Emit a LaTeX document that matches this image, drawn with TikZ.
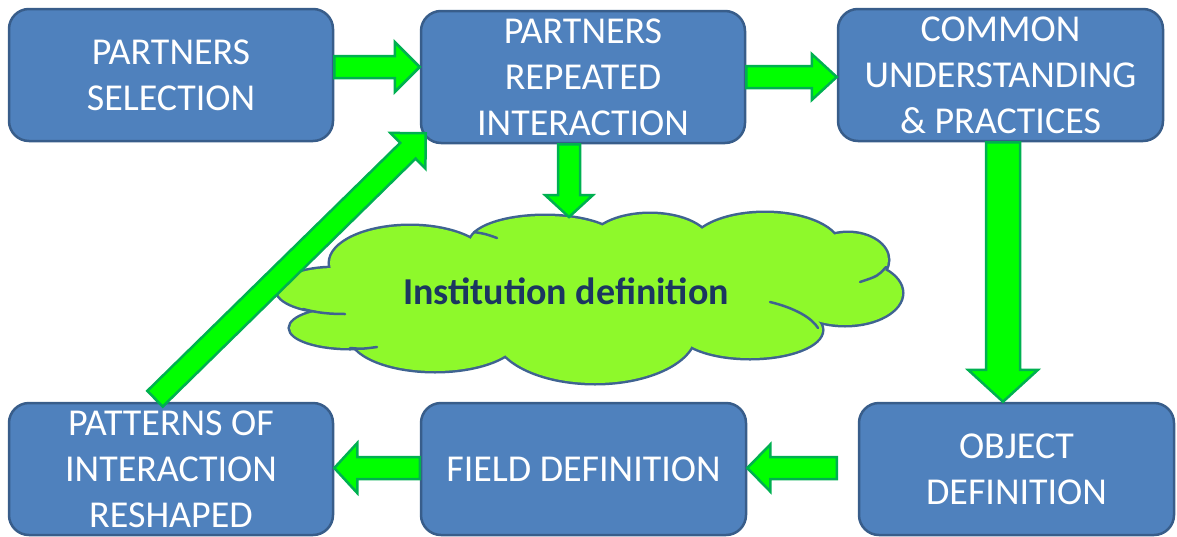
\documentclass[tikz,border=0pt]{standalone}
\usepackage{fontspec}
\setmainfont{Carlito}
\usetikzlibrary{calc}
\definecolor{boxfill}{HTML}{4F81BD}
\definecolor{boxline}{HTML}{385D8A}
\definecolor{arrfill}{HTML}{00FF00}
\definecolor{arrline}{HTML}{00B050}
\definecolor{cloudfill}{HTML}{8EF92B}
\definecolor{cloudline}{HTML}{3F6391}
\definecolor{cloudtext}{HTML}{1B3660}
% #1 from, #2 to, #3 shaft half width, #4 head half width, #5 head length, #6 prefix
\newcommand\blockarrow[6]{%
  \coordinate (#6h) at ($(#2)!#5!(#1)$);
  \draw[arrowsty] ($(#1)!#3!90:(#2)$) -- ($(#6h)!#3!-90:(#1)$) -- ($(#6h)!#4!-90:(#1)$)
     -- (#2) -- ($(#6h)!#4!90:(#1)$) -- ($(#6h)!#3!90:(#1)$) -- ($(#1)!#3!-90:(#2)$) -- cycle;
}
\def\lobes{335/290/58/22, 410/263/80/37, 545/243/75/27, 650/244/60/30, 765/248/75/35, 848/260/40/27, 845/293/57/32, 750/330/72/28, 595/333/100/50, 435/335/85/36, 350/328/60/20}
\begin{document}
\begin{tikzpicture}[x=1pt,y=-1pt,
  box/.style={draw=boxline, fill=boxfill, line width=2.5pt, rounded corners=20pt,
    minimum width=324pt, minimum height=132pt, inner sep=0pt, text=white, align=center,
    font=\fontsize{38}{46}\selectfont},
  arrowsty/.style={draw=arrline, fill=arrfill, line width=2.5pt, line join=miter},
  cloudborder/.style={draw=cloudline, line width=5pt},
  stub/.style={draw=cloudline, line width=2.5pt, line cap=round}]
\useasboundingbox (0,0) rectangle (1177,536);
% boxes
\node[box] (A) at (171,75) {PARTNERS\\SELECTION};
\node[box] (B) at (583,77) {PARTNERS\\REPEATED\\INTERACTION};
\node[box, minimum width=325pt] (C) at (1000.5,75) {COMMON\\UNDERSTANDING\\\& PRACTICES};
\node[box, minimum width=315pt] (D) at (1016.5,469) {OBJECT\\DEFINITION};
\node[box, minimum width=325pt] (E) at (583.5,469) {FIELD DEFINITION};
\node[box] (F) at (171,469) {PATTERNS OF\\INTERACTION\\RESHAPED};
% cloud
\foreach \cx/\cy/\rx/\ry in \lobes {\path[cloudborder] (\cx,\cy) ellipse [x radius=\rx, y radius=\ry];}
\fill[cloudfill] (335,290) -- (410,263) -- (545,243) -- (650,244) -- (765,248) -- (848,260)
   -- (845,293) -- (750,330) -- (595,333) -- (435,335) -- (350,328) -- cycle;
\foreach \cx/\cy/\rx/\ry in \lobes {\fill[cloudfill] (\cx,\cy) ellipse [x radius=\rx, y radius=\ry];}
\path[stub] (303,309) .. controls (318,313) and (330,314) .. (345,314);
\path[stub] (350,348) .. controls (362,349) .. (377,347);
\path[stub] (474,232) .. controls (486,234) .. (497,238);
\path[stub] (886,267) .. controls (878,276) .. (860,282);
\path[stub] (770,302) .. controls (795,308) and (812,318) .. (818,328);
\node[font=\fontsize{38}{43}\selectfont\bfseries, text=cloudtext, anchor=base, inner sep=0pt] (cloud) at (566,304) {Institution definition};
\coordinate (cloudtop) at (569,217);
% arrows
\coordinate (ab1) at ($(A.east)+(0,-8)$);
\coordinate (ab2) at ($(B.west)+(0,-10)$);
\blockarrow{ab1}{ab2}{11pt}{25pt}{25pt}{ab}
\coordinate (bc2) at (C.west |- B.east);
\blockarrow{B.east}{bc2}{11pt}{23pt}{25pt}{bc}
\coordinate (bk1) at ($(B.south)+(-14,0)$);
\blockarrow{bk1}{cloudtop}{11pt}{24pt}{22pt}{bk}
\coordinate (cd1) at ($(C.south)+(2.5,0)$);
\coordinate (cd2) at (cd1 |- D.north);
\blockarrow{cd1}{cd2}{17pt}{35pt}{32pt}{cd}
\coordinate (de1) at ($(D.west)+(-21,-1)$);
\coordinate (de2) at (E.east |- de1);
\blockarrow{de1}{de2}{11pt}{23.5pt}{23pt}{de}
\coordinate (ef1) at (E.west |- de1);
\coordinate (ef2) at (F.east |- de1);
\blockarrow{ef1}{ef2}{11pt}{25pt}{23pt}{ef}
\coordinate (fb1) at ($(F.north)+(-16,-3)$);
\coordinate (fb2) at ($(B.south west)+(6,-11)$);
\blockarrow{fb1}{fb2}{11pt}{25pt}{25pt}{fb}
\end{tikzpicture}
\end{document}
